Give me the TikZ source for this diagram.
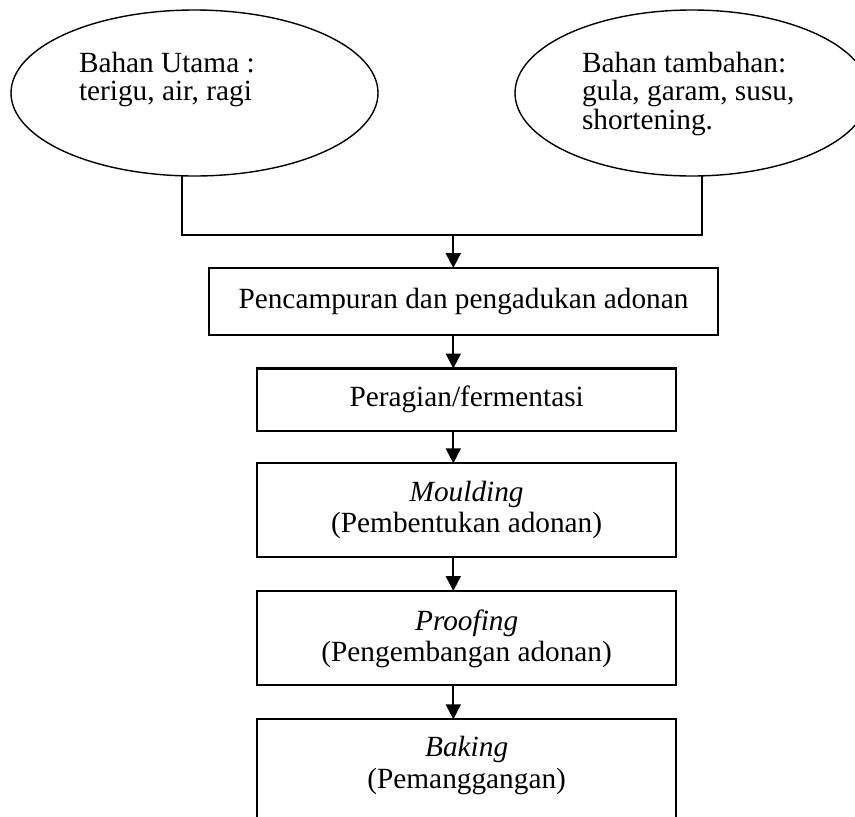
\documentclass[tikz,border=0pt]{standalone}
\usepackage{fontspec}
\setmainfont{Liberation Serif}
\usetikzlibrary{shapes.geometric,arrows.meta}
\begin{document}
\begin{tikzpicture}[x=1pt,y=-1pt,
  ell/.style={draw, ellipse, line width=1.4pt, inner sep=0pt, outer sep=0pt},
  procbox/.style={draw, rectangle, line width=2.1pt, inner sep=0pt, outer sep=0pt, minimum width=418.7pt},
  conn/.style={line width=1.9pt},
  flowarrow/.style={conn, -{Triangle[width=15pt,length=15pt]}},
  elltext/.style={inner sep=0pt, outer sep=0pt, anchor=base west, font=\fontsize{29.3}{28.3}\selectfont},
  boxtext/.style={inner sep=0pt, outer sep=0pt, anchor=base, font=\fontsize{29.3}{31.7}\selectfont},
]
\useasboundingbox (0,0) rectangle (855,817);
\clip (0,0) rectangle (855,817);

% ellipses
\node[ell, minimum width=367pt, minimum height=166pt] (bu) at (194.5,93) {};
\node[ell, minimum width=354pt, minimum height=166pt] (bt) at (692,93) {};
\node[elltext] (butext) at (79,72) {\begin{tabular}[t]{@{}l@{}}Bahan Utama :\\terigu, air, ragi\end{tabular}};
\node[elltext] (bttext) at (582,72) {\begin{tabular}[t]{@{}l@{}}Bahan tambahan:\\gula, garam, susu,\\shortening.\end{tabular}};

% process boxes
\node[procbox, minimum width=509pt, minimum height=67pt] (b1) at (463.5,301.5) {};
\node[procbox, minimum height=62.5pt] (b2) at (466.65,399.75) {};
\node[procbox, minimum height=93.4pt] (b3) at (466.65,510) {};
\node[procbox, minimum height=94pt] (b4) at (466.65,638) {};
\node[procbox, minimum height=110pt] (b5) at (466.65,774.3) {};

\node[boxtext] (t1) at (463.5,308) {Pencampuran dan pengadukan adonan};
\node[boxtext] (t2) at (466.65,406.7) {Peragian/fermentasi};
\node[boxtext] (t3) at (466.65,501) {\begin{tabular}[t]{@{}c@{}}\textit{Moulding}\\(Pembentukan adonan)\end{tabular}};
\node[boxtext] (t4) at (466.65,630) {\begin{tabular}[t]{@{}c@{}}\textit{Proofing}\\(Pengembangan adonan)\end{tabular}};
\node[boxtext] (t5) at (466.65,756.7) {\begin{tabular}[t]{@{}c@{}}\textit{Baking}\\(Pemanggangan)\end{tabular}};

% connectors
\coordinate (jl) at (182,235);
\coordinate (jr) at (702,235);
\coordinate (jm) at (453.3,235);
\draw[conn] (bu.south -| jl) -- (jl) -- (jr) -- (bt.south -| jr);
\draw[flowarrow] (jm) -- (b1.north -| jm);
\draw[flowarrow] (b1.south -| jm) -- (b2.north -| jm);
\draw[flowarrow] (b2.south -| jm) -- (b3.north -| jm);
\draw[flowarrow] (b3.south -| jm) -- (b4.north -| jm);
\draw[flowarrow] (b4.south -| jm) -- (b5.north -| jm);
\end{tikzpicture}
\end{document}
